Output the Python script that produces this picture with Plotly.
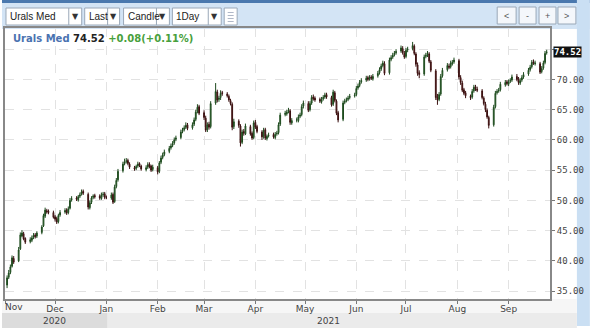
import pandas as pd
import plotly.graph_objects as go

# ---------------- data ----------------
dates = pd.bdate_range("2020-11-02", "2021-09-24")

opens = [
    36.0, 37.3, 38.1, 39.1, 40.4, 40.0, 42.0, 44.1, 44.5, 43.7, 43.2, 43.4, 43.9, 44.3, 44.1, 44.7, 45.8, 47.4, 48.3, 48.2, 48.0,
    47.3, 47.0, 46.5, 47.6, 48.1, 48.4, 48.0, 48.7, 50.1, 50.4, 50.1, 50.7, 51.0, 51.5, 51.0, 48.8, 49.7, 50.5, 50.8, 50.7, 50.3, 51.0, 51.1,
    50.5, 50.4, 51.0, 49.8, 52.3, 53.4, 54.9, 56.1, 56.5, 56.6, 56.0, 55.4, 55.3, 55.7, 56.1, 55.7, 55.1, 55.5, 56.0, 55.7, 55.1,
    55.4, 54.8, 56.3, 57.1, 57.6, 58.1, 58.7, 59.1, 59.5, 60.1, 60.4, 61.4, 61.7, 62.1, 62.5, 62.0, 62.6, 63.4, 64.7, 65.5,
    64.5, 63.6, 61.7, 62.6, 62.2, 66.1, 67.9, 66.7, 67.0, 67.8, 67.6, 67.2, 66.5, 65.9, 62.2, 63.1, 62.3, 59.6, 61.4, 61.0, 62.2, 61.1, 60.4,
    62.9, 62.2, 61.3, 60.6, 61.7, 60.2, 60.7, 60.9, 60.4, 61.0, 61.2, 62.6, 64.2, 64.3, 64.7, 64.8, 62.8, 63.3, 63.2, 63.9, 64.2, 65.6,
    66.0, 65.0, 66.1, 67.1, 66.9, 66.7, 66.3, 66.8, 67.1, 67.5, 67.0, 65.9, 67.8, 66.4, 64.5, 63.4, 66.2, 66.5, 66.7, 67.0, 67.3,
    67.5, 68.6, 69.0, 69.6, 69.9, 70.3, 70.1, 70.4, 70.1, 70.6, 71.1, 71.7, 72.3, 72.6, 71.1, 73.3, 73.7, 74.1, 74.4, 74.7, 75.1, 74.3,
    73.8, 74.9, 75.1, 75.5, 74.2, 72.4, 71.1, 70.9, 73.8, 74.1, 74.2, 72.9, 71.4, 67.1, 66.7, 67.6, 70.6, 71.6, 72.2, 72.1, 72.6, 72.9,
    73.1, 70.3, 69.4, 68.3, 67.8, 67.2, 67.1, 68.1, 68.8, 68.4, 68.1, 66.9, 65.9, 64.9, 63.7, 62.5, 65.5, 67.8, 68.1, 68.3, 69.1, 69.6,
    69.2, 69.7, 69.9, 70.5, 70.1, 69.4, 69.9, 70.4, 70.9, 71.6, 72.1, 72.9, 72.6, 72.6, 71.3, 71.9, 72.8, 74.44,
]
highs = [
    37.6, 38.5, 39.4, 40.9, 40.8, 42.3, 44.7, 45.1, 44.8, 43.9, 43.9, 44.2, 44.6, 44.6, 44.9, 45.9, 47.8, 48.8, 48.6, 48.5, 48.3,
    47.6, 47.3, 47.8, 48.4, 48.7, 48.7, 49.0, 50.4, 50.7, 50.7, 50.9, 51.3, 51.8, 51.8, 51.3, 50.0, 50.7, 51.0, 51.1, 51.0, 51.3, 51.4, 51.4,
    50.8, 51.3, 51.3, 52.6, 53.7, 55.2, 56.4, 56.9, 57.0, 56.9, 56.3, 55.7, 55.9, 56.4, 56.3, 55.9, 55.8, 56.3, 56.3, 55.9, 55.9,
    55.7, 56.5, 57.4, 57.9, 58.4, 59.0, 59.4, 59.8, 60.4, 60.7, 61.7, 62.0, 62.4, 62.9, 62.8, 62.9, 63.7, 65.0, 65.9, 65.8,
    64.9, 64.0, 62.9, 63.0, 66.4, 69.4, 68.3, 67.3, 68.2, 68.1, 67.9, 67.5, 66.8, 66.2, 63.5, 63.4, 62.6, 61.7, 61.8, 62.7, 62.5, 61.4, 63.2,
    63.3, 62.5, 61.6, 62.0, 62.0, 60.9, 61.2, 61.2, 61.3, 61.5, 62.9, 64.5, 64.8, 65.0, 65.3, 65.1, 63.6, 63.7, 64.2, 64.5, 65.9, 66.5,
    66.4, 66.4, 67.4, 67.5, 67.2, 67.0, 67.1, 67.4, 67.8, 67.8, 67.3, 68.3, 68.1, 66.7, 64.8, 66.5, 66.8, 67.0, 67.3, 67.6, 67.8,
    68.9, 69.3, 69.9, 70.2, 70.6, 70.6, 70.7, 70.7, 70.9, 71.4, 72.0, 72.6, 73.1, 73.0, 73.6, 74.0, 74.4, 74.7, 75.0, 75.6, 75.5, 74.7,
    75.2, 75.4, 76.2, 75.8, 74.5, 72.8, 71.5, 74.1, 74.4, 74.7, 74.5, 73.2, 71.7, 67.6, 67.9, 70.9, 71.9, 72.7, 72.6, 73.1, 73.2, 73.6,
    73.4, 70.7, 69.8, 68.6, 68.1, 67.5, 68.4, 69.1, 69.1, 68.8, 68.4, 67.2, 66.3, 65.2, 64.0, 65.8, 68.1, 68.4, 68.6, 69.6, 69.9, 69.9,
    70.0, 70.2, 70.8, 70.9, 70.4, 70.2, 70.7, 71.2, 71.9, 72.4, 73.2, 73.3, 73.1, 72.9, 72.2, 73.1, 74.7, 74.9,
]
lows = [
    35.5, 37.0, 37.8, 38.9, 39.5, 39.8, 41.8, 43.9, 43.4, 42.8, 42.9, 43.1, 43.6, 43.7, 43.8, 44.4, 45.6, 47.1, 47.8, 47.7, 47.0,
    46.5, 46.1, 46.2, 47.3, 47.8, 47.6, 47.7, 48.5, 49.8, 49.9, 49.8, 50.4, 50.8, 50.9, 48.5, 48.5, 49.4, 50.2, 50.3, 50.1, 50.1, 50.6, 50.2,
    50.2, 50.1, 49.4, 49.6, 52.0, 53.1, 54.6, 55.8, 56.1, 55.8, 55.2, 54.9, 55.0, 55.4, 55.5, 54.9, 54.8, 55.2, 55.3, 54.7, 54.8,
    54.3, 54.5, 56.0, 56.8, 57.3, 57.8, 58.4, 58.8, 59.2, 59.8, 60.1, 61.1, 61.4, 61.8, 61.6, 61.7, 62.3, 63.1, 64.4, 64.1,
    63.3, 61.3, 61.3, 61.7, 61.9, 65.8, 66.2, 66.3, 66.6, 67.3, 67.0, 66.3, 65.7, 61.6, 61.8, 62.0, 58.9, 59.3, 60.7, 60.8, 60.7, 60.0, 60.1,
    61.8, 61.1, 60.0, 60.2, 60.0, 59.9, 60.4, 60.2, 60.1, 60.7, 60.9, 62.3, 63.9, 64.0, 64.4, 62.5, 62.5, 62.9, 62.9, 63.6, 63.9, 65.2,
    64.6, 64.7, 65.8, 66.5, 66.3, 66.1, 66.0, 66.5, 66.8, 66.8, 65.5, 65.6, 66.2, 64.1, 62.9, 63.1, 65.9, 66.2, 66.4, 66.7, 67.0,
    67.2, 68.3, 68.7, 69.3, 69.6, 69.7, 69.8, 69.9, 69.8, 70.3, 70.8, 71.4, 72.0, 70.7, 70.8, 73.0, 73.4, 73.8, 74.1, 74.4, 74.1, 73.4,
    73.5, 74.5, 74.8, 74.0, 72.1, 70.6, 70.2, 70.6, 73.5, 73.7, 72.7, 71.2, 66.6, 65.8, 66.4, 67.3, 70.3, 71.3, 71.7, 71.8, 72.3, 72.6,
    70.0, 69.1, 67.9, 67.4, 66.9, 66.6, 66.8, 67.8, 68.1, 67.9, 66.7, 65.7, 64.6, 63.5, 61.9, 62.2, 65.2, 67.5, 67.8, 68.0, 68.8, 69.0,
    68.9, 69.4, 69.6, 69.7, 69.1, 69.1, 69.6, 70.1, 70.6, 71.3, 71.8, 72.4, 72.3, 70.9, 71.0, 71.6, 72.5, 74.1,
]
closes = [
    37.2, 38.0, 39.0, 40.5, 39.8, 41.8, 44.3, 44.6, 43.6, 43.1, 43.5, 43.8, 44.2, 44.0, 44.6, 45.6, 47.5, 48.4, 48.1, 48.0, 47.2,
    46.9, 46.4, 47.5, 48.0, 48.3, 47.9, 48.6, 50.0, 50.3, 50.2, 50.6, 50.9, 51.4, 51.2, 48.9, 49.6, 50.4, 50.7, 50.6, 50.4, 50.9, 51.0, 50.5,
    50.5, 50.9, 49.7, 52.2, 53.3, 54.8, 56.0, 56.4, 56.5, 56.1, 55.5, 55.2, 55.6, 56.0, 55.8, 55.2, 55.4, 55.9, 55.6, 55.0, 55.5,
    54.7, 56.2, 57.0, 57.5, 58.0, 58.6, 59.0, 59.4, 60.0, 60.3, 61.3, 61.6, 62.0, 62.4, 61.9, 62.5, 63.3, 64.6, 65.4, 64.4,
    63.7, 61.6, 62.5, 62.1, 66.0, 68.0, 66.6, 66.9, 67.7, 67.7, 67.3, 66.6, 66.0, 62.1, 63.0, 62.4, 59.5, 61.3, 61.1, 62.3, 61.0, 60.3, 62.8,
    62.1, 61.4, 60.5, 61.6, 60.3, 60.6, 60.8, 60.5, 60.9, 61.1, 62.5, 64.1, 64.4, 64.6, 64.9, 62.9, 63.2, 63.3, 63.8, 64.1, 65.5, 66.1,
    64.9, 66.0, 67.0, 66.8, 66.6, 66.4, 66.7, 67.0, 67.4, 67.1, 65.8, 67.9, 66.5, 64.4, 63.3, 66.1, 66.4, 66.6, 66.9, 67.2, 67.4,
    68.5, 68.9, 69.5, 69.8, 70.2, 70.0, 70.3, 70.2, 70.5, 71.0, 71.6, 72.2, 72.7, 71.0, 73.2, 73.6, 74.0, 74.3, 74.6, 75.2, 74.4, 73.7,
    74.8, 75.0, 75.6, 74.3, 72.5, 71.0, 70.8, 73.7, 74.0, 74.3, 73.0, 71.5, 67.0, 66.6, 67.5, 70.5, 71.5, 72.3, 72.0, 72.7, 72.8, 73.2,
    70.4, 69.5, 68.2, 67.7, 67.3, 67.0, 68.0, 68.7, 68.5, 68.2, 67.0, 66.0, 65.0, 63.8, 62.4, 65.4, 67.7, 68.0, 68.2, 69.2, 69.5, 69.3,
    69.6, 69.8, 70.4, 70.0, 69.5, 69.8, 70.3, 70.8, 71.5, 72.0, 72.8, 72.7, 72.7, 71.2, 71.8, 72.7, 74.3, 74.52,
]

month_ticks = ["2020-11-01", "2020-12-01", "2021-01-01", "2021-02-01", "2021-03-01", "2021-04-01",
               "2021-05-01", "2021-06-01", "2021-07-01", "2021-08-01", "2021-09-01"]
month_labels = ["Nov", "Dec", "Jan", "Feb", "Mar", "Apr", "May", "Jun", "Jul", "Aug", "Sep"]
price_ticks = [35, 40, 45, 50, 55, 60, 65, 70, 75]
price_labels = ["35.00", "40.00", "45.00", "50.00", "55.00", "60.00", "65.00", "70.00", ""]  # 75.00 is hidden behind the last-price tag
year_labels = ["2020", "2021"]
last_price = "74.52"
change_text = "+0.08(+0.11%)"
symbol = "Urals Med"

n = min(len(dates), len(opens), len(highs), len(lows), len(closes))

# ---------------- layout helpers (pixel -> paper) ----------------
W, H = 590, 334
L_M, R_M, T_M, B_M = 3, 40, 28, 35
PW, PH = W - L_M - R_M, H - T_M - B_M


def px(x):
    return (x - L_M) / PW


def py(y):
    return (H - B_M - y) / PH


shapes = []


def rect(x0, y0, x1, y1, fill, line=None, lw=1, layer="below"):
    shapes.append(dict(type="rect", xref="paper", yref="paper",
                       x0=px(x0), x1=px(x1), y0=py(y1), y1=py(y0),
                       fillcolor=fill, layer=layer,
                       line=dict(color=line or fill, width=lw if line else 0)))


def vline(x, y0, y1, color, lw=1):
    shapes.append(dict(type="line", xref="paper", yref="paper",
                       x0=px(x), x1=px(x), y0=py(y0), y1=py(y1),
                       line=dict(color=color, width=lw), layer="above"))


annotations = []


def text(x, y, s, size=10, color="#222", anchor="left", family="Liberation Sans, Arial, sans-serif"):
    annotations.append(dict(xref="paper", yref="paper", x=px(x), y=py(y), text=s,
                            showarrow=False, xanchor=anchor, yanchor="middle",
                            font=dict(size=size, color=color, family=family)))


# toolbar background
rect(0, 0, 590, 29, "#d3e4f5")
rect(0, 0, 590, 3, "#4a78ae")
# right blue strip
rect(577, 0, 590, 326, "#cadff3")
# bottom axis area + year band
rect(0, 299, 577, 313, "#f6f6f6")
rect(0, 313, 106, 328, "#dcdcdc")
rect(106, 313, 577, 328, "#ebebeb")

# dropdown boxes
boxes = [(4, 80, 67, "Urals Med"), (83, 118, 106, "Last"), (122, 168, 155, "Candle"), (171, 220, 207, "1Day")]
for x0, x1, xd, label in boxes:
    rect(x0, 8, x1, 25, "#ffffff", line="#9aa8b8", layer="above")
    vline(xd, 8, 25, "#9aa8b8")
    text(x0 + 2, 16.5, label, size=10, color="#222")
    text((xd + x1) / 2, 16.5, "▼", size=8, color="#333", anchor="center",
         family="DejaVu Sans, sans-serif")
# icon box
rect(223, 8, 236, 25, "#ffffff", line="#9aa8b8", layer="above")
for yy in (12.5, 15.5, 18.5, 21.5):
    shapes.append(dict(type="line", xref="paper", yref="paper", x0=px(226.5), x1=px(232.5),
                       y0=py(yy), y1=py(yy), line=dict(color="#b0b8c8", width=1), layer="above"))

# navigation buttons on the right
for x0, x1, label in [(497, 516, "<"), (519, 536, "-"), (539, 556, "+"), (558, 576, ">")]:
    rect(x0, 7, x1, 24, "#f4f7fb", line="#9aa8b8", layer="above")
    text((x0 + x1) / 2, 15.5, label, size=9, color="#555", anchor="center")

# year labels
text(53, 320.5, year_labels[0], size=9, color="#444", anchor="center", family="DejaVu Sans, sans-serif")
text(328, 320.5, year_labels[1], size=9, color="#444", anchor="center", family="DejaVu Sans, sans-serif")

# first month label sits on the left edge
annotations.append(dict(xref="paper", yref="paper", x=px(1), y=py(307), text=month_labels[0],
                        showarrow=False, xanchor="left", yanchor="middle",
                        font=dict(size=9, color="#444", family="DejaVu Sans, sans-serif")))
tick_text = [""] + month_labels[1:]

# header inside plot
annotations.append(dict(
    xref="paper", yref="paper", x=px(9), y=py(38), xanchor="left", yanchor="middle", showarrow=False,
    text=(f'<b><span style="color:#4a72b0">{symbol}</span> '
          f'<span style="color:#222">{last_price}</span> '
          f'<span style="color:#48a03c">{change_text}</span></b>'),
    font=dict(size=10, family="DejaVu Sans, sans-serif")))

# last price marker
annotations.append(dict(
    xref="paper", yref="y", x=1.0, y=float(last_price), xanchor="left", yanchor="middle",
    xshift=3, showarrow=False, text=f"<b>{last_price}</b>", bgcolor="#111111",
    borderpad=0, font=dict(size=9, color="#ffffff", family="DejaVu Sans Mono, monospace")))

fig = go.Figure(go.Candlestick(
    x=dates[:n], open=opens[:n], high=highs[:n], low=lows[:n], close=closes[:n],
    increasing=dict(line=dict(color="#1e4a1e", width=1), fillcolor="#4f9a4f"),
    decreasing=dict(line=dict(color="#3a1010", width=1), fillcolor="#8e2f2f"),
    whiskerwidth=0, showlegend=False, hoverinfo="skip",
))

grid = dict(showgrid=True, gridcolor="#e2e2e2", griddash="dash", gridwidth=1)
fig.update_layout(
    width=W, height=H,
    margin=dict(l=L_M, r=R_M, t=T_M, b=B_M, pad=0),
    paper_bgcolor="#ffffff", plot_bgcolor="#ffffff",
    shapes=shapes, annotations=annotations,
    xaxis=dict(type="date", range=["2020-10-31 18:00", "2021-09-26"], rangeslider=dict(visible=False),
               tickmode="array", tickvals=month_ticks, ticktext=tick_text,
               ticks="outside", ticklen=3, tickcolor="#777", ticklabelstandoff=-3,
               showline=True, linecolor="#888", linewidth=2, mirror=True,
               tickfont=dict(size=9, color="#444", family="DejaVu Sans, sans-serif"), **grid),
    yaxis=dict(side="right", range=[33.7, 78.5], tickmode="array",
               tickvals=price_ticks, ticktext=price_labels,
               ticks="outside", ticklen=3, tickcolor="#777",
               showline=True, linecolor="#888", linewidth=2, mirror=True, zeroline=False,
               tickfont=dict(size=9, color="#444", family="DejaVu Sans Mono, monospace"), **grid),
    font=dict(family="DejaVu Sans, sans-serif"),
)

fig.write_html("out.html")
